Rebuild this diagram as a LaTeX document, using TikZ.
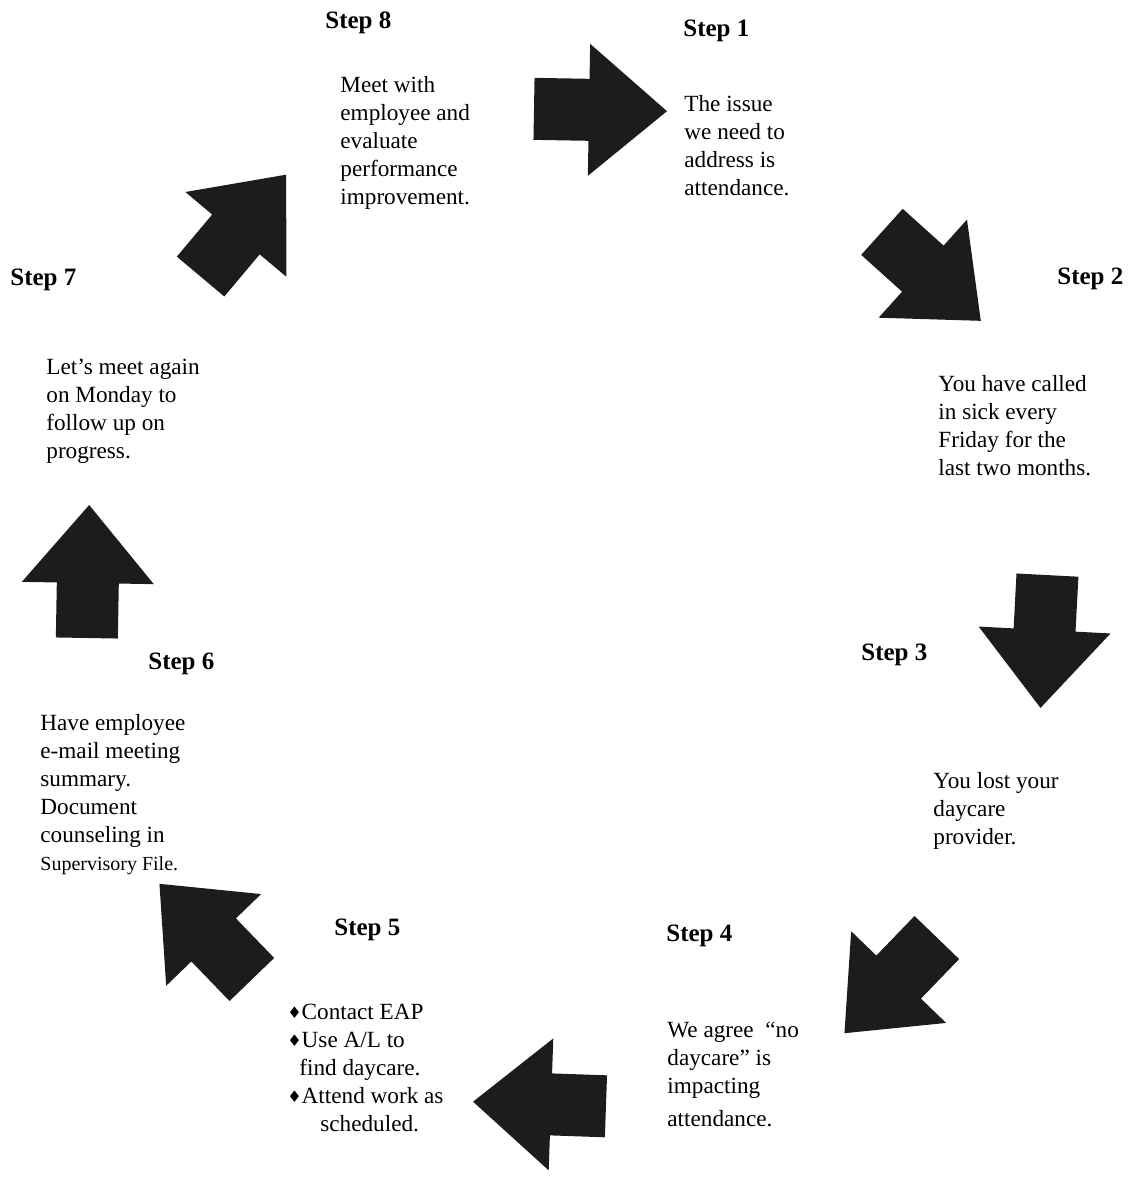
\documentclass[tikz,border=0pt]{standalone}
\usepackage{fontspec}
\setmainfont{Liberation Serif}
\newfontfamily\symfont{DejaVu Sans}
\usetikzlibrary{positioning}
\definecolor{arrowgray}{RGB}{28,28,28}
\newcommand{\dmd}{{\symfont\fontsize{8}{8}\selectfont\raisebox{0.5pt}{♦}}}

\begin{document}
\begin{tikzpicture}[
    x=0.5pt, y=-0.5pt,
    steplbl/.style={anchor=west, inner sep=0pt, font=\fontsize{12.5}{14}\selectfont\bfseries},
    txt/.style={anchor=north west, inner sep=0pt, align=left, font=\fontsize{11.6}{14}\selectfont},
    steparrow/.pic={
      \fill[arrowgray] (-66,-31) -- (-11,-31) -- (-11,-66) -- (67,0)
                       -- (-11,66) -- (-11,31) -- (-66,31) -- cycle;
    },
]
\useasboundingbox (0,0) rectangle (1130,1190);

% arrows round the circle
\pic[rotate=-1]   at (600,110)  {steparrow};
\pic[rotate=-42]  at (931,276)  {steparrow};
\pic[rotate=-93]  at (1044,641) {steparrow};
\pic[rotate=-134] at (891,985)  {steparrow};
\pic[rotate=-182] at (540,1104) {steparrow};
\pic[rotate=-226] at (206,932)  {steparrow};
\pic[rotate=-271] at (88,572)   {steparrow};
\pic[rotate=-310] at (243,226)  {steparrow};

% step labels
\node[steplbl] (s1) at (683,31)   {Step 1};
\node[steplbl] (s2) at (1057,279) {Step 2};
\node[steplbl] (s3) at (861,655)  {Step 3};
\node[steplbl] (s4) at (666,936)  {Step 4};
\node[steplbl] (s5) at (334,930)  {Step 5};
\node[steplbl] (s6) at (148,664)  {Step 6};
\node[steplbl] (s7) at (10,280)   {Step 7};
\node[steplbl] (s8) at (325,23)   {Step 8};

% texts
\node[txt] (t1) at (684,95)  {The issue\\we need to\\address is\\attendance.};
\node[txt] (t2) at (938,375) {You have called\\in sick every\\Friday for the\\last two months.};
\node[txt] (t3) at (933,772) {You lost your\\daycare\\provider.};
\node[txt] (t4) at (667,1022) {We agree\ \ “no\\daycare” is\\impacting\\[2.5pt]attendance.};
\node[txt] (t5) at (287,1004) {\dmd Contact EAP\\ \dmd Use A/L to\\
    \hspace*{6pt}find daycare.\\ \dmd Attend work as\\ \hspace*{16.5pt}scheduled.};
\node[txt] (t6) at (40,714)  {Have employee\\e-mail meeting\\summary.\\Document\\counseling in\\
    {\fontsize{10}{14}\selectfont Supervisory File.}};
\node[txt] (t7) at (46,359)  {Let’s meet again\\on Monday to\\follow up on\\progress.};
\node[txt] (t8) at (340,76)  {Meet with\\employee and\\evaluate\\performance\\improvement.};

\end{tikzpicture}
\end{document}
